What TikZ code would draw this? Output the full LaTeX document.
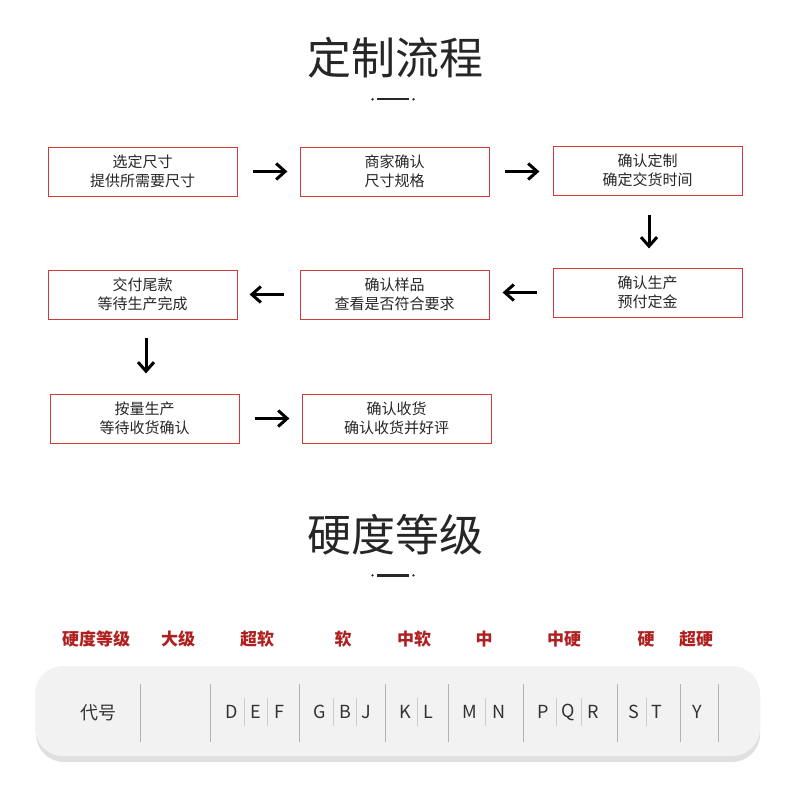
\documentclass[tikz,border=0pt]{standalone}
\usepackage{fontspec}
\setmainfont{Noto Sans CJK SC}
\usetikzlibrary{arrows.meta}
\definecolor{boxred}{HTML}{D23A3A}
\definecolor{labred}{HTML}{B02020}
\tikzset{
 pstep/.style={draw=boxred,line width=0.8pt,minimum width=189pt,minimum height=49pt,align=center,font=\fontsize{15}{19}\selectfont,text=black!85},
 arr/.style={line width=3pt,-{Straight Barb[length=9pt,width=16pt,line width=3pt]}},
 lab/.style={text=labred,font=\bfseries\fontsize{17}{20}\selectfont},
 let/.style={font=\fontsize{18}{20}\selectfont,text=black!80},
 div/.style={draw=black!30,line width=0.7pt},
 sdiv/.style={draw=black!20,line width=0.5pt}
}
\begin{document}
\begin{tikzpicture}[x=1pt,y=-1pt]
\useasboundingbox[fill=white] (0,0) rectangle (790,797);
\node[font=\fontsize{44}{50}\selectfont,text=black!85] (t1) at (395,58) {定制流程};
\fill[black!85] (377,98) rectangle (409,100.5);
\fill[black!85] (372.5,99.3) circle (1.3) (413.5,99.3) circle (1.3);
\node[pstep] (a1) at (142.5,171.5) {选定尺寸\\提供所需要尺寸};
\node[pstep] (a2) at (394.5,171.5) {商家确认\\尺寸规格};
\node[pstep] (a3) at (647.5,170.5) {确认定制\\确定交货时间};
\node[pstep] (b3) at (647.5,292.5) {确认生产\\预付定金};
\node[pstep] (b2) at (394.5,294.5) {确认样品\\查看是否符合要求};
\node[pstep] (b1) at (142.5,294.5) {交付尾款\\等待生产完成};
\node[pstep] (c1) at (144.5,418.5) {按量生产\\等待收货确认};
\node[pstep] (c2) at (396.5,418.5) {确认收货\\确认收货并好评};
\draw[arr] (a1.east)++(16,0) -- ++(34,0);
\draw[arr] (a2.east)++(16,0) -- ++(34,0);
\draw[arr] (a3.south)++(1.5,20) -- ++(0,33);
\draw[arr] (b3.west)++(-16,0) -- ++(-34,0);
\draw[arr] (b2.west)++(-16,0) -- ++(-34,0);
\draw[arr] (b1.south)++(3.5,19) -- ++(0,35);
\draw[arr] (c1.east)++(16,0) -- ++(34,0);
\node[font=\fontsize{44}{50}\selectfont,text=black!85] (t2) at (395,535) {硬度等级};
\fill[black!85] (377,574) rectangle (409,576.5);
\fill[black!85] (372.5,575.3) circle (1.3) (413.5,575.3) circle (1.3);
\foreach \t/\x in {硬度等级/96,大级/178,超软/257,软/343,中软/414,中/484,中硬/564,硬/646,超硬/696}
  \node[lab] at (\x,639) {\t};
\fill[rounded corners=28pt,black!12] (36,671) rectangle (760,762);
\fill[rounded corners=28pt,black!5] (35,666) rectangle (760,756);
\foreach \x in {140.5,210.7,299.4,385.8,448.4,523.8,617.3,679.9,718.8}
  \draw[div] (\x,684) -- (\x,742);
\foreach \x in {244,267,333,356,417,485,556,581,646}
  \draw[sdiv] (\x,698) -- (\x,726);
\node[let] at (98,713) {代号};
\foreach \t/\x in {D/232,E/256,F/279,G/320,B/345,J/366,K/405,L/428,M/470,N/499,P/543,Q/568,R/593,S/634,T/657,Y/697}
  \node[let] at (\x,712) {\t};
\end{tikzpicture}
\end{document}
